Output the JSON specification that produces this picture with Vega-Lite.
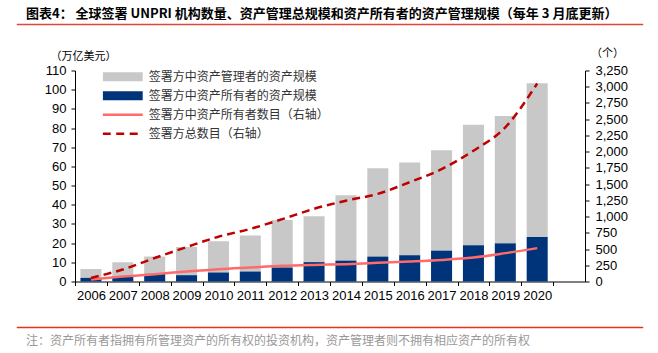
{
  "$schema": "https://vega.github.io/schema/vega-lite/v6.json",
  "padding": {"left": 16, "top": 7, "right": 5, "bottom": 5},
  "background": "white",
  "center": true,
  "bounds": "flush",
  "spacing": 45.5,
  "config": {
    "font": "Noto Sans CJK SC",
    "axis": {
      "labelFont": "Liberation Sans", "labelFontSize": 13, "labelColor": "#000",
      "domainColor": "#000", "tickColor": "#000", "grid": false, "tickSize": 4,
      "domainWidth": 1, "tickWidth": 1,
      "titleFont": "Noto Sans CJK SC", "titleFontSize": 11, "titleFontWeight": "normal", "titleColor": "#000"
    },
    "legend": {
      "title": null, "orient": "none", "legendX": 85.7, "legendY": 43.5, "padding": 0,
      "symbolType": "M-0.667,0H3.78", "symbolSize": 324, "symbolStrokeWidth": 0, "clipHeight": 18.3,
      "rowPadding": 0, "labelOffset": 34, "labelFontSize": 12, "labelFont": "Noto Sans CJK SC",
      "labelColor": "#333", "labelLimit": 400
    }
  },
  "vconcat": [
    {
      "width": 626, "height": 1,
      "view": {"stroke": "#e2463b", "strokeWidth": 0.5, "fill": "#e2463b"},
      "title": {
        "text": "图表4： 全球签署 UNPRI 机构数量、资产管理总规模和资产所有者的资产管理规模（每年 3 月底更新）",
        "anchor": "start", "fontSize": 13, "fontWeight": "bold", "color": "#000", "offset": 3, "dx": 9,
        "font": "Noto Sans CJK SC"
      },
      "data": {"values": []},
      "mark": "text",
      "encoding": {}
    },
    {
      "width": 510, "height": 211,
      "view": {"stroke": null},
      "data": {"values": [
        {"year": "2006", "series": "签署方中资产管理者的资产规模", "value": 4.6},
        {"year": "2007", "series": "签署方中资产管理者的资产规模", "value": 7.4},
        {"year": "2008", "series": "签署方中资产管理者的资产规模", "value": 9.0},
        {"year": "2009", "series": "签署方中资产管理者的资产规模", "value": 14.7},
        {"year": "2010", "series": "签署方中资产管理者的资产规模", "value": 16.3},
        {"year": "2011", "series": "签署方中资产管理者的资产规模", "value": 18.8},
        {"year": "2012", "series": "签署方中资产管理者的资产规模", "value": 24.7},
        {"year": "2013", "series": "签署方中资产管理者的资产规模", "value": 23.9},
        {"year": "2014", "series": "签署方中资产管理者的资产规模", "value": 34.1},
        {"year": "2015", "series": "签署方中资产管理者的资产规模", "value": 46.0},
        {"year": "2016", "series": "签署方中资产管理者的资产规模", "value": 48.3},
        {"year": "2017", "series": "签署方中资产管理者的资产规模", "value": 52.3},
        {"year": "2018", "series": "签署方中资产管理者的资产规模", "value": 62.8},
        {"year": "2019", "series": "签署方中资产管理者的资产规模", "value": 66.4},
        {"year": "2020", "series": "签署方中资产管理者的资产规模", "value": 80.2},
        {"year": "2006", "series": "签署方中资产所有者的资产规模", "value": 1.9},
        {"year": "2007", "series": "签署方中资产所有者的资产规模", "value": 2.6},
        {"year": "2008", "series": "签署方中资产所有者的资产规模", "value": 4.0},
        {"year": "2009", "series": "签署方中资产所有者的资产规模", "value": 3.3},
        {"year": "2010", "series": "签署方中资产所有者的资产规模", "value": 4.7},
        {"year": "2011", "series": "签署方中资产所有者的资产规模", "value": 5.2},
        {"year": "2012", "series": "签署方中资产所有者的资产规模", "value": 7.3},
        {"year": "2013", "series": "签署方中资产所有者的资产规模", "value": 10.1},
        {"year": "2014", "series": "签署方中资产所有者的资产规模", "value": 10.9},
        {"year": "2015", "series": "签署方中资产所有者的资产规模", "value": 13.0},
        {"year": "2016", "series": "签署方中资产所有者的资产规模", "value": 13.7},
        {"year": "2017", "series": "签署方中资产所有者的资产规模", "value": 16.1},
        {"year": "2018", "series": "签署方中资产所有者的资产规模", "value": 18.9},
        {"year": "2019", "series": "签署方中资产所有者的资产规模", "value": 19.9},
        {"year": "2020", "series": "签署方中资产所有者的资产规模", "value": 23.2},
        {"year": "2006", "series": "签署方中资产所有者数目（右轴）", "value": 30},
        {"year": "2007", "series": "签署方中资产所有者数目（右轴）", "value": 77},
        {"year": "2008", "series": "签署方中资产所有者数目（右轴）", "value": 113},
        {"year": "2009", "series": "签署方中资产所有者数目（右轴）", "value": 154},
        {"year": "2010", "series": "签署方中资产所有者数目（右轴）", "value": 190},
        {"year": "2011", "series": "签署方中资产所有者数目（右轴）", "value": 216},
        {"year": "2012", "series": "签署方中资产所有者数目（右轴）", "value": 241},
        {"year": "2013", "series": "签署方中资产所有者数目（右轴）", "value": 256},
        {"year": "2014", "series": "签署方中资产所有者数目（右轴）", "value": 267},
        {"year": "2015", "series": "签署方中资产所有者数目（右轴）", "value": 287},
        {"year": "2016", "series": "签署方中资产所有者数目（右轴）", "value": 308},
        {"year": "2017", "series": "签署方中资产所有者数目（右轴）", "value": 333},
        {"year": "2018", "series": "签署方中资产所有者数目（右轴）", "value": 370},
        {"year": "2019", "series": "签署方中资产所有者数目（右轴）", "value": 437},
        {"year": "2020", "series": "签署方中资产所有者数目（右轴）", "value": 514},
        {"year": "2006", "series": "签署方总数目（右轴）", "value": 55},
        {"year": "2007", "series": "签署方总数目（右轴）", "value": 185},
        {"year": "2008", "series": "签署方总数目（右轴）", "value": 362},
        {"year": "2009", "series": "签署方总数目（右轴）", "value": 530},
        {"year": "2010", "series": "签署方总数目（右轴）", "value": 690},
        {"year": "2011", "series": "签署方总数目（右轴）", "value": 810},
        {"year": "2012", "series": "签署方总数目（右轴）", "value": 960},
        {"year": "2013", "series": "签署方总数目（右轴）", "value": 1120},
        {"year": "2014", "series": "签署方总数目（右轴）", "value": 1245},
        {"year": "2015", "series": "签署方总数目（右轴）", "value": 1350},
        {"year": "2016", "series": "签署方总数目（右轴）", "value": 1530},
        {"year": "2017", "series": "签署方总数目（右轴）", "value": 1730},
        {"year": "2018", "series": "签署方总数目（右轴）", "value": 2015},
        {"year": "2019", "series": "签署方总数目（右轴）", "value": 2375},
        {"year": "2020", "series": "签署方总数目（右轴）", "value": 3050}
      ]},
      "encoding": {
        "x": {
          "field": "year", "type": "nominal",
          "scale": {"paddingInner": 0, "paddingOuter": 0.5, "align": 0},
          "axis": {"title": null, "tickBand": "extent", "labelAngle": 0, "labelPadding": 4}
        },
        "color": {
          "field": "series", "type": "nominal",
          "scale": {
            "domain": ["签署方中资产管理者的资产规模", "签署方中资产所有者的资产规模", "签署方中资产所有者数目（右轴）", "签署方总数目（右轴）"],
            "range": ["#c8c8c8", "#00347a", "#ff6b6b", "#c00000"]
          },
          "legend": {
            "encode": {"symbols": {"update": {
              "fill": {"value": "transparent"},
              "stroke": {"signal": "['#c8c8c8','#00347a','#ff6b6b','#c00000'][datum.index]"},
              "strokeWidth": {"signal": "datum.index < 2 ? 9 : 2.5"},
              "strokeDash": {"signal": "datum.index == 3 ? [8, 5.5] : []"},
              "opacity": {"value": 1}
            }}}
          }
        }
      },
      "layer": [
        {
          "transform": [{"filter": {"field": "series", "oneOf": ["签署方中资产管理者的资产规模", "签署方中资产所有者的资产规模"]}}],
          "mark": {"type": "bar", "width": {"band": 0.66}},
          "encoding": {
            "y": {
              "field": "value", "type": "quantitative", "stack": "zero",
              "scale": {"domain": [0, 110], "nice": false},
              "axis": {
                "orient": "left", "values": [0, 10, 20, 30, 40, 50, 60, 70, 80, 90, 100, 110],
                "title": "（万亿美元）", "titleAngle": 0, "titleX": 8, "titleY": -14,
                "titleAlign": "center", "titleBaseline": "middle", "labelPadding": 5
              }
            },
            "order": {"field": "series", "sort": "ascending"}
          }
        },
        {
          "encoding": {
            "y": {
              "field": "value", "type": "quantitative",
              "scale": {"domain": [0, 3250], "nice": false},
              "axis": {
                "orient": "right", "values": [0, 250, 500, 750, 1000, 1250, 1500, 1750, 2000, 2250, 2500, 2750, 3000, 3250],
                "format": ",.0f", "title": "（个）", "titleAngle": 0, "titleX": 22, "titleY": -17,
                "titleAlign": "center", "titleBaseline": "middle", "labelPadding": 6
              }
            }
          },
          "layer": [
            {
              "transform": [{"filter": {"field": "series", "equal": "签署方中资产所有者数目（右轴）"}}],
              "mark": {"type": "line", "interpolate": "monotone", "strokeWidth": 2.5}
            },
            {
              "transform": [{"filter": {"field": "series", "equal": "签署方总数目（右轴）"}}],
              "mark": {"type": "line", "interpolate": "monotone", "strokeWidth": 2.5, "strokeDash": [8, 5]}
            }
          ]
        }
      ],
      "resolve": {"scale": {"y": "independent"}, "axis": {"y": "independent"}}
    },
    {
      "width": 626, "height": 1,
      "view": {"stroke": "#e8321f", "strokeWidth": 0.5, "fill": "#e8321f"},
      "title": {
        "text": "注：资产所有者指拥有所管理资产的所有权的投资机构，资产管理者则不拥有相应资产的所有权",
        "orient": "bottom", "anchor": "start", "fontSize": 12, "fontWeight": "normal", "color": "#999",
        "offset": 8, "dx": 9, "font": "Noto Sans CJK SC"
      },
      "data": {"values": []},
      "mark": "text",
      "encoding": {}
    }
  ]
}
